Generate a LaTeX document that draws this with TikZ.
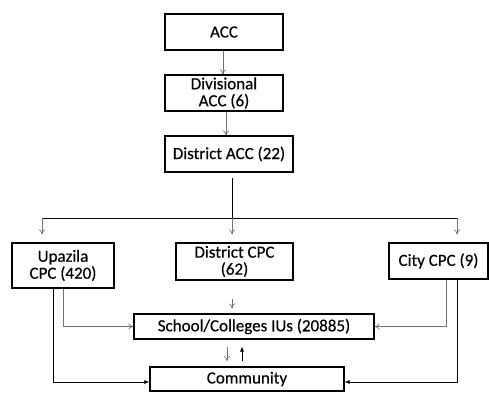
\documentclass[tikz,border=0pt]{standalone}
\usepackage{fontspec}
\setmainfont{Carlito}
\newfontfamily\boxfont{Carlito}[FakeBold=0.4]
\usetikzlibrary{arrows.meta}

\tikzset{
  box/.style={draw=black, line width=1.2pt, align=center, inner sep=0pt,
    font=\boxfont\fontsize{17}{17}\selectfont},
  link/.style={draw=black!55, line width=0.7pt, -{To[length=5pt,width=6pt]}},
  solidlink/.style={draw=black, line width=0.7pt, -{Latex[length=5pt,width=4pt]}}
}

\begin{document}
\begin{tikzpicture}[x=1pt, y=-1pt]

   \useasboundingbox (0,0) rectangle (489,392);

   % boxes
   \node[box, minimum width=118pt, minimum height=36pt] (acc) at (224,32) {ACC};
   \node[box, minimum width=118pt, minimum height=36pt] (div) at (224,93) {Divisional\\ACC (6)};
   \node[box, minimum width=128pt, minimum height=36pt] (dacc) at (229,154) {District ACC (22)};
   \node[box, minimum width=102pt, minimum height=45pt] (upz) at (63,265.5) {Upazila\\CPC (420)};
   \node[box, minimum width=117pt, minimum height=37pt] (dcpc) at (234.5,261.5) {District CPC\\(62)};
   \node[box, minimum width=99pt, minimum height=36pt] (city) at (438.5,261) {City CPC (9)};
   \node[box, minimum width=240pt, minimum height=25pt] (school) at (254,326.5) {School/Colleges IUs (20885)};
   \node[box, minimum width=194pt, minimum height=24pt] (comm) at (247,379) {Community};

   % top chain
   \draw[link] ([xshift=-1pt]acc.south) -- ([xshift=-1pt]acc.south |- div.north);
   \draw[link] ([xshift=2pt]div.south) -- ([xshift=2pt]div.south |- dacc.north);

   % bus
   \coordinate (bus) at (232,218);
   \coordinate (busL) at (42,218);
   \coordinate (busR) at (457,218);
   \coordinate (dbot) at (bus |- dacc.south);
   \draw[draw=black, line width=0.8pt] ([yshift=-5pt]dbot) -- (bus);
   \draw[draw=black, line width=0.8pt] (busL) -- (busR);
   \draw[link, shorten >=8pt] (busL) -- (busL |- upz.north);
   \draw[link, shorten >=8pt] (bus) -- (bus |- dcpc.north);
   \draw[link, shorten >=8pt] (busR) -- (busR |- city.north);

   % middle
   \draw[link, shorten <=18pt, shorten >=5pt] ([xshift=-2.5pt]dcpc.south) -- ([xshift=-2.5pt]dcpc.south |- school.north);
   \coordinate (sdown) at (227,338.5);
   \coordinate (cdown) at (227,367);
   \coordinate (cup) at (242,367);
   \coordinate (sup2) at (242,338.5);
   \draw[link, shorten <=8pt, shorten >=6pt] (sdown) -- (cdown);
   \draw[solidlink, shorten <=6pt, shorten >=8pt] (cup) -- (sup2);

   % side feeds
   \draw[link] (upz.south) |- (school.west);
   \draw[solidlink] ([xshift=-10pt]upz.south) |- ([yshift=-3pt]comm.west);
   \draw[link] ([xshift=7.5pt]city.south) |- (school.east);
   \draw[solidlink] ([xshift=18.5pt]city.south) |- ([yshift=-3pt]comm.east);

\end{tikzpicture}
\end{document}
